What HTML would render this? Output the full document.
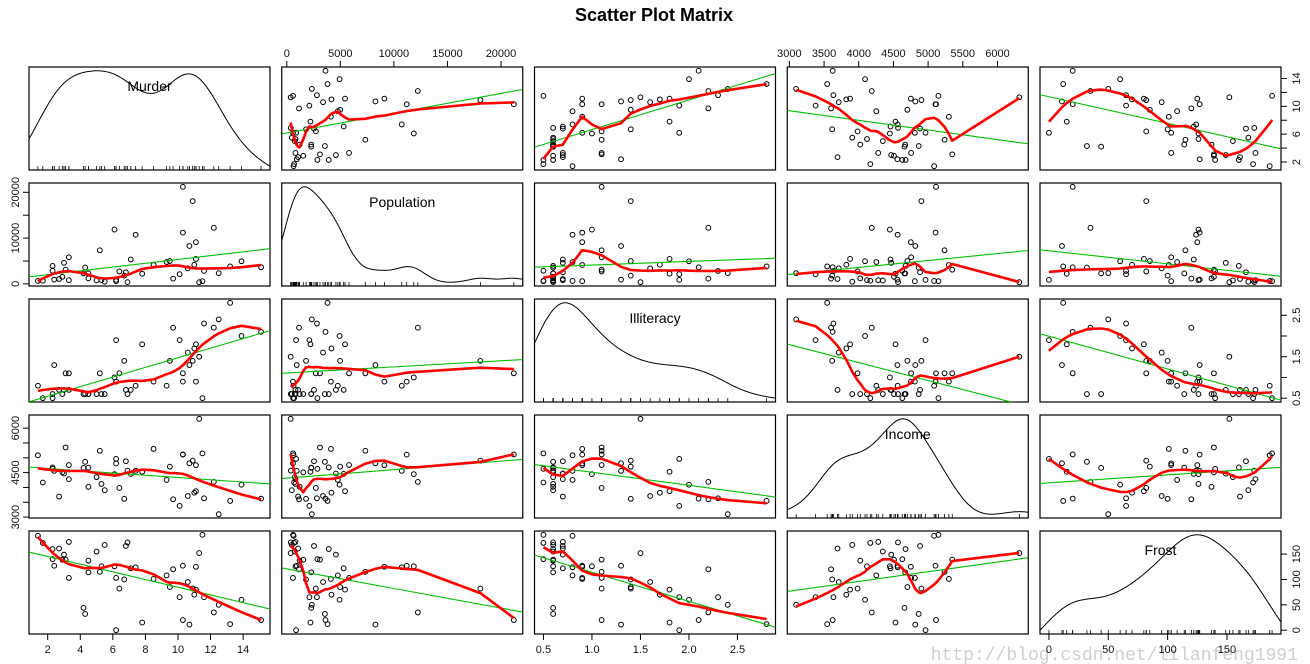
<!DOCTYPE html>
<html><head><meta charset="utf-8"><title>Scatter Plot Matrix</title>
<style>
body{margin:0;background:#fff;}
svg{display:block;font-family:"Liberation Sans",Arial,sans-serif;}
</style></head>
<body>
<svg id="chart" width="1310" height="664" viewBox="0 0 1310 664">
<text x="654" y="21" text-anchor="middle" font-size="18" font-weight="bold">Scatter Plot Matrix</text>
<text x="1298" y="660" text-anchor="end" font-size="18" fill="#cfcfcf" font-family="Liberation Mono, monospace">http://blog.csdn.net/lilanfeng1991</text>
</svg>
<script>
const varNames = ["Murder","Population","Illiteracy","Income","Frost"];
const murder = [15.1,11.3,7.8,10.1,10.3,6.8,3.1,6.2,10.7,13.9,6.2,5.3,10.3,7.1,2.3,4.5,10.6,13.2,2.7,8.5,3.3,11.1,2.3,12.5,9.3,5.0,2.9,11.5,3.3,5.2,9.7,10.9,11.1,1.4,7.4,6.4,4.2,6.1,2.4,11.6,1.7,11.0,12.2,4.5,5.5,9.5,4.3,6.7,3.0,6.9];
const population = [3615,365,2212,2110,21198,2541,3100,579,8277,4931,868,813,11197,5313,2861,2280,3387,3806,1058,4122,5814,9111,3921,2341,4767,746,1544,590,812,7333,1144,18076,5441,637,10735,2715,2284,11860,931,2816,681,4173,12237,1203,472,4981,3559,1799,4589,376];
const illiteracy = [2.1,1.5,1.8,1.9,1.1,0.7,1.1,0.9,1.3,2.0,1.9,0.6,0.9,0.7,0.5,0.6,1.6,2.8,0.7,0.9,1.1,0.9,0.6,2.4,0.8,0.6,0.6,0.5,0.7,1.1,2.2,1.4,1.8,0.8,0.8,1.1,0.6,1.0,1.3,2.3,0.5,1.7,2.2,0.6,0.6,1.4,0.6,1.4,0.7,0.6];
const income = [3624,6315,4530,3378,5114,4884,5348,4809,4815,4091,4963,4119,5107,4458,4628,4669,3712,3545,3694,5299,4755,4751,4675,3098,4254,4347,4508,5149,4281,5237,3601,4903,3875,5087,4561,3983,4660,4449,4558,3635,4167,3821,4188,4022,3907,4701,4864,3617,4468,4566];
const frost = [20,152,15,65,20,166,139,103,11,60,0,126,127,122,140,114,95,12,161,101,103,125,160,50,108,155,139,188,174,115,120,82,80,186,124,82,44,126,127,65,172,70,35,137,168,85,32,100,149,173];
const murderTicks = [2,4,6,8,10,12,14];
const murderSideLabels = [2,6,10,14];
const populationTicks = [0,5000,10000,15000,20000];
const populationSideLabels = [0,10000,20000];
const illiteracyTicks = [0.5,1.0,1.5,2.0,2.5];
const illiteracySideLabels = [0.5,1.5,2.5];
const incomeTicks = [3000,3500,4000,4500,5000,5500,6000];
const incomeSideLabels = [3000,4500,6000];
const frostTicks = [0,50,100,150];
const frostSideLabels = [0,50,100,150];

const data = [murder,population,illiteracy,income,frost];
const ticks = [murderTicks,populationTicks,illiteracyTicks,incomeTicks,frostTicks];
const sideLabels = [murderSideLabels,populationSideLabels,illiteracySideLabels,incomeSideLabels,frostSideLabels];
const fmt = [v=>String(v), v=>String(v), v=>v.toFixed(1), v=>String(v), v=>String(v)];

const svg = document.getElementById('chart');
const NS = 'http://www.w3.org/2000/svg';
const X0 = 29, Y0 = 67, PW = 241, PH = 103, SX = 252.75, SY = 116;
function mk(tag, attrs, parent){const e=document.createElementNS(NS,tag);for(const k in attrs)e.setAttribute(k,attrs[k]);(parent||svg).appendChild(e);return e;}
function range(v){const mn=Math.min(...v),mx=Math.max(...v),r=mx-mn;return [mn-0.04*r,mx+0.04*r];}
const ranges = data.map(range);
function sx(j,v){const [a,b]=ranges[j];return X0+j*SX+(v-a)/(b-a)*PW;}
function sy(i,v){const [a,b]=ranges[i];return Y0+i*SY+PH-(v-a)/(b-a)*PH;}

function solve3(A,b){
  const M=A.map((r,i)=>r.concat([b[i]]));
  for(let c=0;c<3;c++){let p=c;for(let r=c+1;r<3;r++)if(Math.abs(M[r][c])>Math.abs(M[p][c]))p=r;[M[c],M[p]]=[M[p],M[c]];
    if(Math.abs(M[c][c])<1e-14)return null;
    for(let r=0;r<3;r++){if(r===c)continue;const f=M[r][c]/M[c][c];for(let k=c;k<4;k++)M[r][k]-=f*M[c][k];}}
  return [M[0][3]/M[0][0],M[1][3]/M[1][1],M[2][3]/M[2][2]];
}
function locfit(xs,ys,rw,x0,q,sc){
  const n=xs.length;
  const d=xs.map(v=>Math.abs(v-x0)).sort((a,b)=>a-b);
  const h=Math.max(d[q-1],1e-9)*1.0000001;
  let S=[0,0,0,0,0],T=[0,0,0];
  for(let k=0;k<n;k++){const u=Math.abs(xs[k]-x0)/h;if(u>=1)continue;const w=Math.pow(1-u*u*u,3)*rw[k];if(w<=0)continue;
    const z=(xs[k]-x0)/sc;let p=1;for(let e=0;e<5;e++){S[e]+=w*p;if(e<3)T[e]+=w*p*ys[k];p*=z;}}
  const sol=solve3([[S[0],S[1],S[2]],[S[1],S[2],S[3]],[S[2],S[3],S[4]]],T);
  if(!sol)return T[0]/S[0];
  return sol[0];
}
function loess(x,y,span,iters){
  const n=x.length,q=Math.floor(span*n);
  const mn=Math.min(...x),mx=Math.max(...x),sc=(mx-mn)||1;
  let rw=new Array(n).fill(1);
  for(let it=0;it<iters;it++){
    const fit=x.map(v=>locfit(x,y,rw,v,q,sc));
    const res=y.map((v,k)=>v-fit[k]);const ar=res.map(Math.abs).sort((a,b)=>a-b);
    const m=(ar[Math.floor((n-1)/2)]+ar[Math.ceil((n-1)/2)])/2;const c=6*m;
    rw=res.map(r=>{const u=Math.abs(r)/c;return u<1?Math.pow(1-u*u,2):0;});
  }
  const gx=[...new Set(x)].sort((a,b)=>a-b);
  const gy=gx.map(v=>locfit(x,y,rw,v,q,sc));
  return {x:gx,y:gy};
}
function density(v,lo,hi){
  const n=v.length,m=v.reduce((a,b)=>a+b)/n,sd=Math.sqrt(v.reduce((a,b)=>a+(b-m)*(b-m),0)/(n-1));
  const s=v.slice().sort((a,b)=>a-b);const qf=p=>{const h=(n-1)*p,l=Math.floor(h);return s[l]+(h-l)*(s[Math.min(l+1,n-1)]-s[l]);};
  const iqr=qf(0.75)-qf(0.25); const bw=0.9*Math.min(sd,iqr/1.34)*Math.pow(n,-0.2);
  const xs=[],ys=[];for(let k=0;k<=200;k++){const x=lo+(hi-lo)*k/200;let d=0;for(const t of v){const z=(x-t)/bw;d+=Math.exp(-z*z/2);}xs.push(x);ys.push(d/(n*bw*Math.sqrt(2*Math.PI)));}
  return {x:xs,y:ys};
}

for(let i=0;i<5;i++){
  for(let j=0;j<5;j++){
    const px=X0+j*SX, py=Y0+i*SY;
    const g=mk('g',{});
    
    
    const fr=mk('rect',{x:px,y:py,width:PW,height:PH,fill:'none',stroke:'#000','stroke-width':1.2},g);
    
    
    if(i===j){
      const [lo,hi]=ranges[j]; const d=density(data[j],lo,hi);
      const ymn=Math.min(...d.y), ymx=Math.max(...d.y), yr=ymx-ymn, a=ymn-0.04*yr, b=ymx+0.04*yr;
      const pts=d.x.map((x,k)=>(px+(x-lo)/(hi-lo)*PW).toFixed(1)+','+(py+PH-(d.y[k]-a)/(b-a)*PH).toFixed(1)).join(' ');
      const pl=mk('polyline',{points:pts,fill:'none',stroke:'#000','stroke-width':1},g);
      
      
      for(const v of data[j]){const x=sx(j,v);const r=mk('line',{x1:x,x2:x,y1:py+PH,y2:py+PH-4,stroke:'#000','stroke-width':0.8},g);
        
        }
      const t=mk('text',{x:px+PW/2,y:py+24,'text-anchor':'middle','font-size':14},g);t.textContent=varNames[j];
      
      
    } else {
      const xv=data[j], yv=data[i], n=xv.length;
      const mx=xv.reduce((a,b)=>a+b)/n,my=yv.reduce((a,b)=>a+b)/n;
      let sxy=0,sxx=0;for(let k=0;k<n;k++){sxy+=(xv[k]-mx)*(yv[k]-my);sxx+=(xv[k]-mx)**2;}
      const b=sxy/sxx,a=my-b*mx; const [lo,hi]=ranges[j];
      const cp=mk('clipPath',{id:'c'+i+j},g); mk('rect',{x:px,y:py,width:PW,height:PH},cp);
      for(let k=0;k<n;k++){const c=mk('circle',{cx:sx(j,xv[k]),cy:sy(i,yv[k]),r:2.4,fill:'none',stroke:'#000','stroke-width':1},g);
        
        }
      const gl=mk('line',{x1:sx(j,lo),y1:sy(i,a+b*lo),x2:sx(j,hi),y2:sy(i,a+b*hi),stroke:'#00c000','stroke-width':1.1,'clip-path':'url(#c'+i+j+')'},g);
      
      
      const L=loess(xv,yv,0.5,4);
      const rl=mk('polyline',{points:L.x.map((x,k)=>sx(j,x).toFixed(1)+','+sy(i,L.y[k]).toFixed(1)).join(' '),fill:'none',stroke:'#ff0000','stroke-width':2.6,'stroke-linejoin':'round','clip-path':'url(#c'+i+j+')'},g);
      
      
    }
  }
}
for(let j=0;j<5;j++){
  const bottom=(j%2===0); const yb=bottom?Y0+4*SY+PH:Y0;
  const g=mk('g',{});
  
  
  for(const t of ticks[j]){const x=sx(j,t);
    mk('line',{x1:x,x2:x,y1:yb,y2:bottom?yb+6:yb-6,stroke:'#000'},g);
    const tx=mk('text',{x:x,y:bottom?yb+19:yb-10,'text-anchor':'middle','font-size':11,fill:'#111'},g);tx.textContent=fmt[j](t);
    
    }
}
for(let i=0;i<5;i++){
  const right=(i%2===0); const xb=right?X0+4*SX+PW:X0;
  const g=mk('g',{});
  
  
  for(const t of ticks[i]){const y=sy(i,t);
    mk('line',{x1:xb,x2:right?xb+6:xb-6,y1:y,y2:y,stroke:'#000'},g);}
  for(const t of sideLabels[i]){const y=sy(i,t);const x=right?xb+19:xb-10;
    const tx=mk('text',{x:x,y:y,'text-anchor':'middle','font-size':11,fill:'#111',transform:'rotate(-90 '+x+' '+y+')'},g);tx.textContent=fmt[i](t);
    
    }
}
</script>
</body></html>
